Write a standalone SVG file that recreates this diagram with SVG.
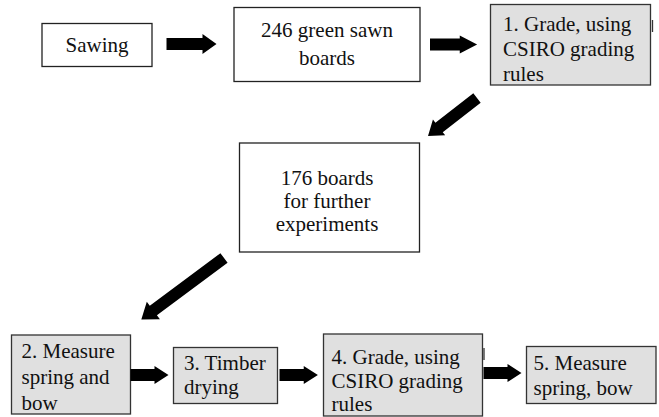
<svg xmlns="http://www.w3.org/2000/svg" width="659" height="417" viewBox="0 0 659 417">
  <defs>
    <style>
      .box { fill: #ffffff; stroke: #222; stroke-width: 1.3; }
      .step { fill: #e0e0e0; stroke: #333; stroke-width: 1.3; }
      .mid { text-anchor: middle; }
      .arrow { fill: #000; }
      .tick { stroke: #333; stroke-width: 1.3; }
    </style>
    <path id="blk" d="M0,-6 L36,-6 L36,-10 L50,0 L36,10 L36,6 L0,6 Z"/>
    <path id="blkS" d="M0,-6 L24,-6 L24,-9 L38,0 L24,9 L24,6 L0,6 Z"/>
    <path id="blkL" d="M0,-6 L48,-6 L48,-10 L62,0 L48,10 L48,6 L0,6 Z"/>
    <path id="blkXL" d="M0,-6 L88,-6 L88,-11 L103,0 L88,11 L88,6 L0,6 Z"/>
  </defs>

  <g font-family="Liberation Serif, Times New Roman, serif" font-size="21" fill="#111">
  <g id="sawing">
    <rect class="box" x="42" y="23.5" width="110" height="43"/>
    <text class="mid" x="97" y="52">Sawing</text>
  </g>

  <g id="green-boards">
    <rect class="box" x="234" y="7.5" width="186" height="74"/>
    <text class="mid" x="327" y="37">246 green sawn</text>
    <text class="mid" x="327" y="65">boards</text>
  </g>

  <g id="grade-1">
    <rect class="step" x="490.5" y="4.5" width="160" height="80.5"/>
    <line class="tick" x1="652.5" y1="20" x2="652.5" y2="32"/>
    <text x="503" y="30.5">1. Grade, using</text>
    <text x="503" y="56">CSIRO grading</text>
    <text x="503" y="80.5">rules</text>
  </g>

  <g id="further-boards">
    <rect class="box" x="239.5" y="143" width="180" height="109"/>
    <text class="mid" x="327" y="185">176 boards</text>
    <text class="mid" x="327" y="208">for further</text>
    <text class="mid" x="327" y="231">experiments</text>
  </g>

  <g id="measure-2">
    <rect class="step" x="11.5" y="335" width="119" height="79"/>
    <text x="21.5" y="358">2. Measure</text>
    <text x="21.5" y="384">spring and</text>
    <text x="21.5" y="410">bow</text>
  </g>

  <g id="drying-3">
    <rect class="step" x="173.5" y="347.5" width="104" height="56"/>
    <text x="184" y="370">3. Timber</text>
    <text x="184" y="394">drying</text>
  </g>

  <g id="grade-4">
    <rect class="step" x="323.5" y="334" width="159" height="82"/>
    <line class="tick" x1="484" y1="348" x2="484" y2="360"/>
    <text x="331.5" y="363.5">4. Grade, using</text>
    <text x="331.5" y="388">CSIRO grading</text>
    <text x="331.5" y="411">rules</text>
  </g>

  <g id="measure-5">
    <rect class="step" x="526.5" y="346.5" width="129.5" height="57"/>
    <text x="533.5" y="370">5. Measure</text>
    <text x="533.5" y="395">spring, bow</text>
  </g>
  </g>

  <g id="connectors" class="arrow">
    <use href="#blk" transform="translate(166.5,44)"/>
    <use href="#blkS" transform="translate(430,44.5) scale(1.24,1)"/>
    <use href="#blkL" transform="translate(477,98) rotate(142.2)"/>
    <use href="#blkXL" transform="translate(224,258) rotate(143.4)"/>
    <use href="#blkS" transform="translate(130.5,375)"/>
    <use href="#blkS" transform="translate(279.5,375) scale(1.01,1)"/>
    <use href="#blkS" transform="translate(483.5,373)"/>
  </g>
</svg>
